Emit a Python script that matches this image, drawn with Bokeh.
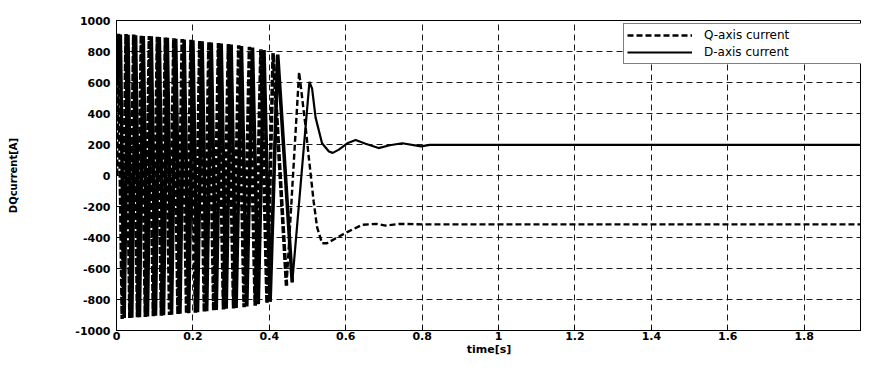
from bokeh.plotting import figure
from bokeh.models import Range1d, FixedTicker, Legend, LegendItem, ColumnDataSource
from bokeh.embed import file_html
from bokeh.resources import INLINE

# Q-axis current: extrema / shape points (time [s], current [A])
q_t = [0.000, 0.005, 0.015, 0.025, 0.035, 0.045, 0.055, 0.065, 0.0755, 0.086,
       0.0965, 0.107, 0.1175, 0.128, 0.139, 0.150, 0.161, 0.172, 0.1835, 0.195,
       0.2065, 0.218, 0.230, 0.242, 0.2545, 0.267, 0.280, 0.293, 0.3065, 0.320,
       0.334, 0.348, 0.363, 0.378, 0.394, 0.410, 0.445, 0.478, 0.495, 0.503,
       0.516, 0.525, 0.538, 0.551, 0.573, 0.604, 0.643, 0.680, 0.704, 0.741,
       0.800, 2.0]
q_v = [0, 915, -925, 912, -920, 910, -915, 905, -912, 900,
       -908, 895, -905, 890, -900, 885, -895, 880, -890, 875,
       -885, 870, -880, 862, -872, 855, -865, 848, -858, 840,
       -850, 830, -840, 815, -825, 790, -710, 667, 312, 125,
       -167, -333, -437, -437, -406, -365, -318, -312, -323, -312,
       -315, -315]

# D-axis current
d_t = [0.000, 0.010, 0.020, 0.030, 0.040, 0.050, 0.060, 0.070, 0.081, 0.091,
       0.102, 0.112, 0.123, 0.133, 0.144, 0.155, 0.166, 0.177, 0.189, 0.200,
       0.212, 0.224, 0.236, 0.248, 0.261, 0.274, 0.287, 0.300, 0.313, 0.327,
       0.341, 0.356, 0.371, 0.386, 0.402, 0.422, 0.460, 0.505, 0.512, 0.521,
       0.538, 0.556, 0.566, 0.582, 0.604, 0.626, 0.652, 0.686, 0.715, 0.748,
       0.797, 0.820, 2.0]
d_v = [600, 910, -920, 908, -918, 905, -915, 900, -910, 898,
       -905, 893, -902, 888, -898, 882, -892, 878, -888, 872,
       -882, 866, -876, 858, -868, 852, -860, 845, -855, 835,
       -845, 825, -830, 810, -815, 780, -690, 604, 560, 375,
       208, 155, 146, 167, 208, 229, 205, 177, 195, 208,
       188, 198, 198]

# index where the fast start-up oscillation ends
q_split = 36
d_split = 36

x_ticks = [0, 0.2, 0.4, 0.6, 0.8, 1, 1.2, 1.4, 1.6, 1.8, 2]
x_tick_labels = ["0", "0.2", "0.4", "0.6", "0.8", "1", "1.2", "1.4", "1.6", "1.8", "2"]
y_ticks = [-1000, -800, -600, -400, -200, 0, 200, 400, 600, 800, 1000]
y_tick_labels = ["-1000", "-800", "-600", "-400", "-200", "0", "200", "400", "600", "800", "1000"]

FONT = "DejaVu Sans"

p = figure(width=861, height=358, output_backend="svg", toolbar_location=None,
           x_range=Range1d(0, 1.950), y_range=Range1d(-1000, 1000),
           min_border_left=116, min_border_right=0, min_border_top=20, min_border_bottom=26)

p.background_fill_color = "white"
p.border_fill_color = "white"
p.outline_line_color = "black"
p.outline_line_width = 1

q_dense = ColumnDataSource(dict(t=q_t[:q_split + 1], v=q_v[:q_split + 1]))
q_rest = ColumnDataSource(dict(t=q_t[q_split:], v=q_v[q_split:]))
d_dense = ColumnDataSource(dict(t=d_t[:d_split + 1], v=d_v[:d_split + 1]))
d_rest = ColumnDataSource(dict(t=d_t[d_split:], v=d_v[d_split:]))

p.line("t", "v", source=q_dense, line_color="black", line_width=3.6, line_dash="7 2")
p.line("t", "v", source=d_dense, line_color="black", line_width=3.6)
r_q = p.line("t", "v", source=q_rest, line_color="black", line_width=2.4, line_dash="6 3")
r_d = p.line("t", "v", source=d_rest, line_color="black", line_width=2.2)

for ax, ticks, labels in ((p.xaxis[0], x_ticks, x_tick_labels), (p.yaxis[0], y_ticks, y_tick_labels)):
    ax.ticker = FixedTicker(ticks=ticks, minor_ticks=[])
    ax.major_label_overrides = {t: l for t, l in zip(ticks, labels)}
    ax.major_tick_in = 4
    ax.major_tick_out = 0
    ax.minor_tick_line_color = None
    ax.axis_line_color = "black"
    ax.major_tick_line_color = "black"
    ax.major_label_text_font = FONT
    ax.major_label_text_font_style = "bold"
    ax.major_label_text_font_size = "11px"
    ax.major_label_text_color = "black"
    ax.axis_label_text_font = FONT
    ax.axis_label_text_font_style = "bold"
    ax.axis_label_text_font_size = "11px"
    ax.axis_label_text_color = "black"

p.xaxis[0].axis_label = "time[s]"
p.xaxis[0].major_label_standoff = 1
p.xaxis[0].axis_label_standoff = 0
p.yaxis[0].axis_label = "DQcurrent[A]"
p.yaxis[0].axis_label_text_font_size = "10px"
p.yaxis[0].major_label_standoff = 6
p.yaxis[0].axis_label_standoff = 53

for g in (p.xgrid[0], p.ygrid[0]):
    g.grid_line_color = "black"
    g.grid_line_dash = "6 4"
    g.grid_line_width = 1
    g.grid_line_alpha = 0.9

legend = Legend(items=[LegendItem(label="Q-axis current", renderers=[r_q]),
                       LegendItem(label="D-axis current", renderers=[r_d])],
                location=(507, 266))
legend.label_text_font = FONT
legend.label_text_font_size = "12px"
legend.label_text_color = "black"
legend.glyph_width = 65
legend.glyph_height = 16
legend.label_height = 16
legend.label_width = 156
legend.label_standoff = 12
legend.padding = 3
legend.spacing = 1
legend.margin = 0
legend.border_line_color = "black"
legend.border_line_width = 1
legend.background_fill_color = "white"
legend.background_fill_alpha = 1
p.add_layout(legend)

open("out.html", "w").write(file_html(p, INLINE))
